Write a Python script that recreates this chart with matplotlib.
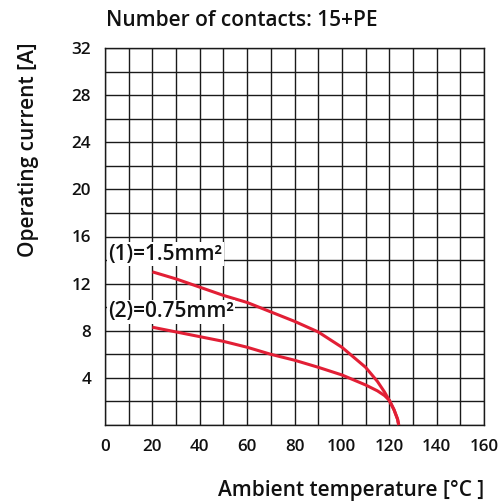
import matplotlib
matplotlib.use("Agg")
import matplotlib.pyplot as plt
from matplotlib.ticker import MultipleLocator

plt.rcParams['font.family'] = ['Open Sans', 'DejaVu Sans']

# Data
temp_1 = [20, 30, 40, 50, 60, 70, 80, 90, 100, 110, 115, 118, 120, 122, 123.5, 124]
current_1 = [13.0, 12.4, 11.7, 11.0, 10.4, 9.6, 8.8, 7.9, 6.6, 4.9, 3.7, 2.8, 2.1, 1.3, 0.5, 0.0]
temp_2 = [20, 30, 40, 50, 60, 70, 80, 90, 100, 110, 115, 118, 120, 122, 123.5, 124]
current_2 = [8.3, 7.9, 7.5, 7.1, 6.6, 6.0, 5.5, 4.9, 4.25, 3.4, 2.9, 2.5, 2.1, 1.3, 0.5, 0.0]
label_1 = "(1)=1.5mm²"
label_2 = "(2)=0.75mm²"
x_ticks = [0, 20, 40, 60, 80, 100, 120, 140, 160]
y_ticks = [4, 8, 12, 16, 20, 24, 28, 32]
title = "Number of contacts: 15+PE"
xlabel = "Ambient temperature [°C ]"
ylabel = "Operating current [A]"

txt = '#111111'
wt = 'semibold'
fig = plt.figure(figsize=(5.03, 5.04), dpi=100)
W, H = 503, 504
ax = fig.add_axes([105 / W, 1 - 425 / H, (484 - 105) / W, (425 - 48) / H])

ax.set_xlim(0, 160)
ax.set_ylim(0, 32)
ax.xaxis.set_minor_locator(MultipleLocator(10))
ax.yaxis.set_minor_locator(MultipleLocator(2))
ax.set_xticks(x_ticks)
ax.set_yticks(y_ticks)
ax.grid(True, which='both', color='#1a1a1a', linewidth=1.0)
ax.set_axisbelow(True)
for s in ax.spines.values():
    s.set_color('#1a1a1a')
    s.set_linewidth(1.0)
ax.tick_params(axis='both', which='major', labelsize=12.3, length=0, pad=10, colors=txt)
ax.tick_params(axis='both', which='minor', length=0)
for t in ax.get_xticklabels() + ax.get_yticklabels():
    t.set_fontweight(wt)

red = '#e21f35'
ax.plot(temp_1, current_1, color=red, linewidth=2.2, solid_capstyle='butt', clip_on=False, zorder=3)
ax.plot(temp_2, current_2, color=red, linewidth=2.2, solid_capstyle='butt', clip_on=False, zorder=3)

ax.text(1.3, 14.5, label_1, fontsize=15, fontweight=wt, ha='left', va='center', color=txt,
        bbox=dict(facecolor='white', edgecolor='none', pad=1.0), zorder=4)
ax.text(1.3, 9.6, label_2, fontsize=15, fontweight=wt, ha='left', va='center', color=txt,
        bbox=dict(facecolor='white', edgecolor='none', pad=1.0), zorder=4)

fig.text(242 / W, 1 - 20 / H, title, fontsize=15, fontweight=wt, ha='center', va='center', color=txt)
fig.text(484 / W, 1 - 490 / H, xlabel, fontsize=15, fontweight=wt, ha='right', va='center', color=txt)
fig.text(29 / W, 1 - 150 / H, ylabel, fontsize=15, fontweight=wt, ha='center', va='center', rotation=90, color=txt)

fig.savefig("out.png", dpi=100)
